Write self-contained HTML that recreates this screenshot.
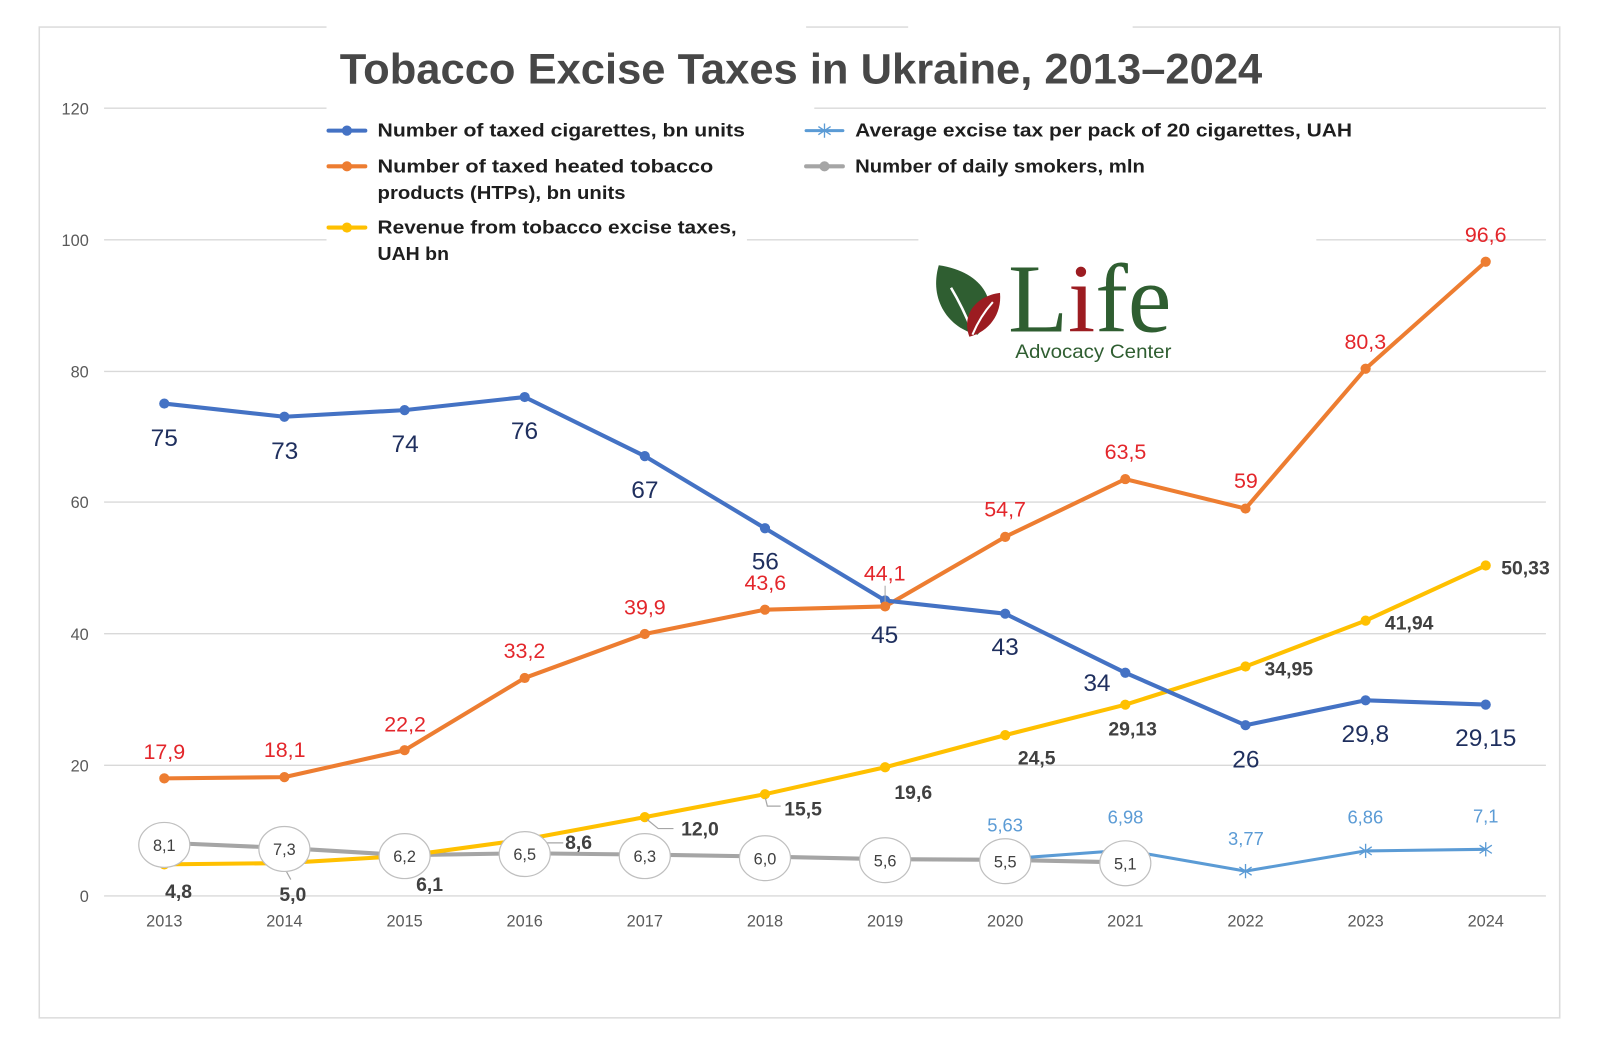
<!DOCTYPE html>
<html><head><meta charset="utf-8"><style>
html,body{margin:0;padding:0;background:#fff;}
svg{display:block;}
</style></head><body>
<svg width="1600" height="1045" viewBox="0 0 1600 1045" xmlns="http://www.w3.org/2000/svg" font-family="Liberation Sans, sans-serif">
<rect x="0" y="0" width="1600" height="1045" fill="#fff"/>
<g transform="scale(1.020408)">
<!-- frame -->
<rect x="38.5" y="26.5" width="1490" height="971" fill="none" stroke="#dcdcdc" stroke-width="1.5"/>
<rect x="320" y="20" width="470" height="14" fill="#fff"/>
<rect x="890" y="20" width="220" height="14" fill="#fff"/>
<!-- gridlines -->
<g stroke="#d9d9d9" stroke-width="1.3">
<line x1="102" y1="106" x2="1515" y2="106"/>
<line x1="102" y1="235" x2="1515" y2="235"/>
<line x1="102" y1="364" x2="1515" y2="364"/>
<line x1="102" y1="492" x2="1515" y2="492"/>
<line x1="102" y1="621" x2="1515" y2="621"/>
<line x1="102" y1="750" x2="1515" y2="750"/>
<line x1="102" y1="878" x2="1515" y2="878"/>
</g>
<!-- white boxes covering gridlines -->
<rect x="320" y="96" width="478" height="100" fill="#fff"/>
<rect x="320" y="196" width="412" height="70" fill="#fff"/>
<rect x="900" y="222" width="390" height="135" fill="#fff"/>
<!-- y axis labels -->
<g font-size="16" fill="#595959" text-anchor="end">
<text x="87" y="112">120</text>
<text x="87" y="241">100</text>
<text x="87" y="370">80</text>
<text x="87" y="498">60</text>
<text x="87" y="627">40</text>
<text x="87" y="756">20</text>
<text x="87" y="884">0</text>
</g>
<!-- x axis labels -->
<g font-size="16" fill="#595959" text-anchor="middle">
<text x="161" y="908">2013</text>
<text x="278.7" y="908">2014</text>
<text x="396.5" y="908">2015</text>
<text x="514.2" y="908">2016</text>
<text x="631.9" y="908">2017</text>
<text x="749.7" y="908">2018</text>
<text x="867.4" y="908">2019</text>
<text x="985.1" y="908">2020</text>
<text x="1102.8" y="908">2021</text>
<text x="1220.6" y="908">2022</text>
<text x="1338.3" y="908">2023</text>
<text x="1456" y="908">2024</text>
</g>
<!-- title -->
<text x="333" y="82" font-size="42" font-weight="bold" fill="#474747" textLength="904" lengthAdjust="spacingAndGlyphs">Tobacco Excise Taxes in Ukraine, 2013–2024</text>
<!-- legend -->
<g stroke-width="4" stroke-linecap="round">
<line x1="322" y1="128" x2="358" y2="128" stroke="#4472C4"/>
<line x1="322" y1="163" x2="358" y2="163" stroke="#ED7D31"/>
<line x1="322" y1="223" x2="358" y2="223" stroke="#FFC000"/>
<line x1="790" y1="128" x2="826" y2="128" stroke="#5B9BD5" stroke-width="3"/>
<line x1="790" y1="163" x2="826" y2="163" stroke="#A5A5A5"/>
</g>
<circle cx="340" cy="128" r="5" fill="#4472C4"/>
<circle cx="340" cy="163" r="5" fill="#ED7D31"/>
<circle cx="340" cy="223" r="5" fill="#FFC000"/>
<circle cx="808" cy="163" r="5" fill="#A5A5A5"/>
<g stroke="#5B9BD5" stroke-width="1.3">
<line x1="808" y1="121" x2="808" y2="135"/>
<line x1="802" y1="124" x2="814" y2="132"/>
<line x1="802" y1="132" x2="814" y2="124"/>
</g>
<g font-size="18" font-weight="bold" fill="#1e1e1e">
<text x="370" y="134" textLength="360" lengthAdjust="spacingAndGlyphs">Number of taxed cigarettes, bn units</text>
<text x="370" y="169" textLength="329" lengthAdjust="spacingAndGlyphs">Number of taxed heated tobacco</text>
<text x="370" y="195" textLength="243" lengthAdjust="spacingAndGlyphs">products (HTPs), bn units</text>
<text x="370" y="229" textLength="352" lengthAdjust="spacingAndGlyphs">Revenue from tobacco excise taxes,</text>
<text x="370" y="255" textLength="70" lengthAdjust="spacingAndGlyphs">UAH bn</text>
<text x="838" y="134" textLength="487" lengthAdjust="spacingAndGlyphs">Average excise tax per pack of 20 cigarettes, UAH</text>
<text x="838" y="169" textLength="284" lengthAdjust="spacingAndGlyphs">Number of daily smokers, mln</text>
</g>
<!-- logo -->
<path d="M920,260 C964,266 984,300 958,328 C930,322 910,294 920,260 Z" fill="#2f5e31"/>
<path d="M932,282 C941,297 947,310 953,325" stroke="#fff" stroke-width="2.5" fill="none"/>
<path d="M980,287 C956,290 942,309 950,330 C969,325 982,308 980,287 Z" fill="#9c1c21"/>
<path d="M973,296 C964,306 958,316 953,328" stroke="#fff" stroke-width="2" fill="none"/>
<text x="988" y="325" style="font-family:'Liberation Serif',serif" font-size="96" fill="#2f5e31" textLength="160" lengthAdjust="spacingAndGlyphs">L<tspan fill="#9c1c21">i</tspan>fe</text>
<text x="995" y="351" font-size="19" fill="#2f5e31" textLength="153" lengthAdjust="spacingAndGlyphs">Advocacy Center</text>

<!-- gray smokers line -->
<polyline fill="none" stroke="#A5A5A5" stroke-width="4" stroke-linejoin="round" points="161,825.9 278.7,831 396.5,838.1 514.2,836.2 631.9,837.5 749.7,839.4 867.4,842 985.1,842.6 1102.8,845.2"/>
<!-- light blue excise line -->
<polyline fill="none" stroke="#5B9BD5" stroke-width="3" stroke-linejoin="round" points="985.1,841.8 1102.8,833.1 1220.6,853.7 1338.3,833.9 1456,832.3"/>
<g stroke="#5B9BD5" stroke-width="1.3">
<line x1="1220.6" y1="846.7" x2="1220.6" y2="860.7"/><line x1="1214.6" y1="849.7" x2="1226.6" y2="857.7"/><line x1="1214.6" y1="857.7" x2="1226.6" y2="849.7"/>
<line x1="1338.3" y1="826.9" x2="1338.3" y2="840.9"/><line x1="1332.3" y1="829.9" x2="1344.3" y2="837.9"/><line x1="1332.3" y1="837.9" x2="1344.3" y2="829.9"/>
<line x1="1456" y1="825.3" x2="1456" y2="839.3"/><line x1="1450" y1="828.3" x2="1462" y2="836.3"/><line x1="1450" y1="836.3" x2="1462" y2="828.3"/>
</g>
<!-- yellow revenue -->
<polyline fill="none" stroke="#FFC000" stroke-width="4" stroke-linejoin="round" points="161,847.1 278.7,845.8 396.5,838.8 514.2,822.7 631.9,800.8 749.7,778.3 867.4,751.9 985.1,720.4 1102.8,690.6 1220.6,653.2 1338.3,608.2 1456,554.2"/>
<g fill="#FFC000">
<circle cx="161" cy="847.1" r="5"/><circle cx="278.7" cy="845.8" r="5"/><circle cx="396.5" cy="838.8" r="5"/><circle cx="514.2" cy="822.7" r="5"/><circle cx="631.9" cy="800.8" r="5"/><circle cx="749.7" cy="778.3" r="5"/><circle cx="867.4" cy="751.9" r="5"/><circle cx="985.1" cy="720.4" r="5"/><circle cx="1102.8" cy="690.6" r="5"/><circle cx="1220.6" cy="653.2" r="5"/><circle cx="1338.3" cy="608.2" r="5"/><circle cx="1456" cy="554.2" r="5"/>
</g>
<!-- orange HTPs -->
<polyline fill="none" stroke="#ED7D31" stroke-width="4" stroke-linejoin="round" points="161,762.8 278.7,761.6 396.5,735.2 514.2,664.4 631.9,621.3 749.7,597.5 867.4,594.3 985.1,526.1 1102.8,469.5 1220.6,498.4 1338.3,361.4 1456,256.5"/>
<g fill="#ED7D31">
<circle cx="161" cy="762.8" r="5"/><circle cx="278.7" cy="761.6" r="5"/><circle cx="396.5" cy="735.2" r="5"/><circle cx="514.2" cy="664.4" r="5"/><circle cx="631.9" cy="621.3" r="5"/><circle cx="749.7" cy="597.5" r="5"/><circle cx="1220.6" cy="498.4" r="5"/><circle cx="985.1" cy="526.1" r="5"/><circle cx="1102.8" cy="469.5" r="5"/><circle cx="1338.3" cy="361.4" r="5"/><circle cx="1456" cy="256.5" r="5"/>
</g>
<!-- blue cigarettes -->
<polyline fill="none" stroke="#4472C4" stroke-width="4" stroke-linejoin="round" points="161,395.5 278.7,408.4 396.5,401.9 514.2,389.1 631.9,447 749.7,517.7 867.4,588.5 985.1,601.4 1102.8,659.3 1220.6,710.7 1338.3,686.3 1456,690.5"/>
<g fill="#4472C4">
<circle cx="161" cy="395.5" r="5"/><circle cx="278.7" cy="408.4" r="5"/><circle cx="396.5" cy="401.9" r="5"/><circle cx="514.2" cy="389.1" r="5"/><circle cx="631.9" cy="447" r="5"/><circle cx="749.7" cy="517.7" r="5"/><circle cx="867.4" cy="588.5" r="5"/><circle cx="985.1" cy="601.4" r="5"/><circle cx="1102.8" cy="659.3" r="5"/><circle cx="1220.6" cy="710.7" r="5"/><circle cx="1338.3" cy="686.3" r="5"/><circle cx="1456" cy="690.5" r="5"/>
</g>
<circle cx="867.4" cy="594.3" r="5" fill="#ED7D31"/>
<line x1="867.4" y1="574" x2="867.4" y2="590" stroke="#a6a6a6" stroke-width="1"/>

<!-- leader lines yellow -->
<g stroke="#a6a6a6" stroke-width="1.2" fill="none">
<polyline points="279,851 285,862"/>
<polyline points="522,826 552,826"/>
<polyline points="634,803 645,812 660,812"/>
<polyline points="750,782 752,790 765,790"/>
</g>

<!-- gray circles -->
<g fill="#fff" stroke="#bfbfbf" stroke-width="1.2">
<ellipse cx="161" cy="828" rx="25" ry="22"/>
<ellipse cx="278.7" cy="832" rx="25" ry="22"/>
<ellipse cx="396.5" cy="839" rx="25" ry="22"/>
<ellipse cx="514.2" cy="837" rx="25" ry="22"/>
<ellipse cx="631.9" cy="839" rx="25" ry="22"/>
<ellipse cx="749.7" cy="841" rx="25" ry="22"/>
<ellipse cx="867.4" cy="843" rx="25" ry="22"/>
<ellipse cx="985.1" cy="844" rx="25" ry="22"/>
<ellipse cx="1102.8" cy="846" rx="25" ry="22"/>
</g>
<g font-size="16" fill="#404040" text-anchor="middle">
<text x="161" y="834">8,1</text>
<text x="278.7" y="838">7,3</text>
<text x="396.5" y="845">6,2</text>
<text x="514.2" y="843">6,5</text>
<text x="631.9" y="845">6,3</text>
<text x="749.7" y="847">6,0</text>
<text x="867.4" y="849">5,6</text>
<text x="985.1" y="850">5,5</text>
<text x="1102.8" y="852">5,1</text>
</g>

<!-- blue labels -->
<g font-size="24" fill="#1f2f5e" text-anchor="middle">
<text x="161" y="437">75</text>
<text x="279" y="450">73</text>
<text x="397" y="443">74</text>
<text x="514" y="430">76</text>
<text x="632" y="488">67</text>
<text x="750" y="558">56</text>
<text x="867" y="630">45</text>
<text x="985" y="642">43</text>
<text x="1075" y="677">34</text>
<text x="1221" y="752">26</text>
<text x="1338" y="727">29,8</text>
<text x="1456" y="731">29,15</text>
</g>
<!-- orange labels -->
<g font-size="21" fill="#e3262b" text-anchor="middle">
<text x="161" y="744">17,9</text>
<text x="279" y="742">18,1</text>
<text x="397" y="717">22,2</text>
<text x="514" y="645">33,2</text>
<text x="632" y="602">39,9</text>
<text x="750" y="578">43,6</text>
<text x="867" y="569">44,1</text>
<text x="985" y="506">54,7</text>
<text x="1103" y="450">63,5</text>
<text x="1221" y="478">59</text>
<text x="1338" y="342">80,3</text>
<text x="1456" y="237">96,6</text>
</g>
<!-- yellow labels -->
<g font-size="19" font-weight="bold" fill="#404040" text-anchor="middle">
<text x="175" y="880">4,8</text>
<text x="287" y="883">5,0</text>
<text x="421" y="873">6,1</text>
<text x="567" y="832">8,6</text>
<text x="686" y="819">12,0</text>
<text x="787" y="799">15,5</text>
<text x="895" y="783">19,6</text>
<text x="1016" y="749">24,5</text>
<text x="1110" y="721">29,13</text>
<text x="1263" y="662">34,95</text>
<text x="1381" y="617">41,94</text>
<text x="1495" y="563">50,33</text>
</g>
<!-- light blue labels -->
<g font-size="18" fill="#5B9BD5" text-anchor="middle">
<text x="985" y="815">5,63</text>
<text x="1103" y="807">6,98</text>
<text x="1221" y="828">3,77</text>
<text x="1338" y="807">6,86</text>
<text x="1456" y="806">7,1</text>
</g>
</g>
</svg>
</body></html>
